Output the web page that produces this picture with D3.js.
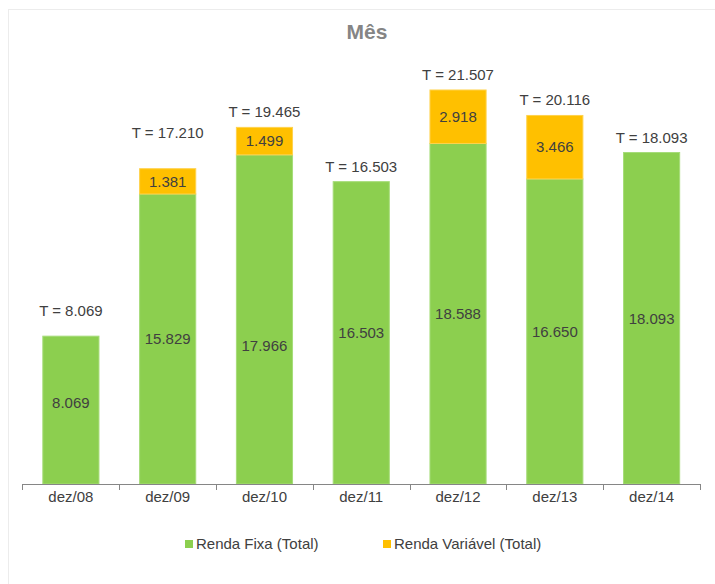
<!DOCTYPE html>
<html>
<head>
<meta charset="utf-8">
<script src="https://cdn.jsdelivr.net/npm/d3@7"></script>
<style>
  body { margin: 0; background: #fff; }
  svg text { font-family: "Liberation Sans", Arial, sans-serif; }
</style>
</head>
<body>
<div id="chart"></div>
<script>
// chart data
const categories = ["dez/08", "dez/09", "dez/10", "dez/11", "dez/12", "dez/13", "dez/14"];
const rendaFixa = [8069, 15829, 17966, 16503, 18588, 16650, 18093];
const rendaVariavel = [0, 1381, 1499, 0, 2918, 3466, 0];
const totals = [8069, 17210, 19465, 16503, 21507, 20116, 18093];
const seriesNames = ["Renda Fixa (Total)", "Renda Variável (Total)"];

// label placement tweaks (the original has hand-moved labels)
const totalGap = [20, 31, 10, 10, 10, 10, 10];
const fixaShift = [-7, 0, 26, 0, 0, 0, 0];

(function(){
  const W = 715, H = 584;
  const colors = ["#8ccf4f", "#ffc000"];
  const textColor = "#404040";

  const ptBR = d3.formatLocale({decimal: ",", thousands: ".", grouping: [3], currency: ["R$", ""]});
  const fmt = ptBR.format(",d");

  const svg = d3.select("#chart").append("svg").attr("width", W).attr("height", H);

  // faint frame
  svg.append("rect").attr("x", 8.5).attr("y", 9.5).attr("width", W).attr("height", H)
    .attr("fill", "none").attr("stroke", "#ececec");

  const x = d3.scaleBand().domain(categories).range([22.5, 700]).paddingInner(0.42).paddingOuter(0.21);
  const y = d3.scaleLinear().domain([0, 24000]).range([484, 44.3]);

  svg.append("text").attr("x", 367).attr("y", 39).attr("text-anchor", "middle")
    .attr("font-size", 21).attr("font-weight", "bold").attr("fill", "#858585").text("Mês");

  const stack = categories.map((c, i) => ({
    cat: c,
    fixa: rendaFixa[i],
    vari: rendaVariavel[i],
    total: totals[i],
    gap: totalGap[i],
    shift: fixaShift[i]
  }));

  const g = svg.append("g");

  // Renda Fixa
  g.selectAll(".fixa").data(stack).join("rect").attr("class", "fixa")
    .attr("x", d => x(d.cat)).attr("width", x.bandwidth())
    .attr("y", d => y(d.fixa)).attr("height", d => y(0) - y(d.fixa))
    .attr("fill", colors[0]).attr("stroke", "#a6dc79").attr("stroke-width", 1);

  // Renda Variável
  const varData = stack.filter(d => d.vari > 0);
  g.selectAll(".vari").data(varData).join("rect").attr("class", "vari")
    .attr("x", d => x(d.cat)).attr("width", x.bandwidth())
    .attr("y", d => y(d.fixa + d.vari)).attr("height", d => y(d.fixa) - y(d.fixa + d.vari))
    .attr("fill", colors[1]).attr("stroke", "#ffd24d").attr("stroke-width", 1);

  // value labels
  g.selectAll(".lblFixa").data(stack).join("text")
    .attr("x", d => x(d.cat) + x.bandwidth() / 2)
    .attr("y", d => (y(0) + y(d.fixa)) / 2 + d.shift).attr("dy", "0.35em")
    .attr("text-anchor", "middle").attr("font-size", 15).attr("fill", textColor)
    .text(d => fmt(d.fixa));

  g.selectAll(".lblVar").data(varData).join("text")
    .attr("x", d => x(d.cat) + x.bandwidth() / 2)
    .attr("y", d => (y(d.fixa) + y(d.fixa + d.vari)) / 2).attr("dy", "0.35em")
    .attr("text-anchor", "middle").attr("font-size", 15).attr("fill", textColor)
    .text(d => fmt(d.vari));

  g.selectAll(".lblTot").data(stack).join("text")
    .attr("x", d => x(d.cat) + x.bandwidth() / 2)
    .attr("y", d => y(d.fixa + d.vari) - d.gap)
    .attr("text-anchor", "middle").attr("font-size", 15).attr("fill", textColor)
    .text(d => "T = " + fmt(d.total));

  // x axis
  const ax = svg.append("g");
  ax.append("line").attr("x1", 22.5).attr("x2", 700).attr("y1", 484.5).attr("y2", 484.5)
    .attr("stroke", "#868686");
  const edges = categories.map(c => x(c) - x.step() * 0.21).concat([700]);
  ax.selectAll(".tk").data(edges).join("line")
    .attr("x1", d => Math.round(d) + 0.5).attr("x2", d => Math.round(d) + 0.5)
    .attr("y1", 484).attr("y2", 490).attr("stroke", "#868686");
  ax.selectAll(".cat").data(categories).join("text")
    .attr("x", d => x(d) + x.bandwidth() / 2).attr("y", 502)
    .attr("text-anchor", "middle").attr("font-size", 15).attr("fill", textColor).text(d => d);

  // legend
  const legX = [185, 383];
  const leg = svg.append("g").selectAll("g").data(seriesNames).join("g")
    .attr("transform", (d, i) => `translate(${legX[i]}, 544)`);
  leg.append("rect").attr("x", 0).attr("y", -4).attr("width", 8).attr("height", 8)
    .attr("fill", (d, i) => colors[i]);
  leg.append("text").attr("x", 11).attr("y", 0).attr("dy", "0.35em")
    .attr("font-size", 15).attr("fill", textColor).text(d => d);
})();
</script>
</body>
</html>
